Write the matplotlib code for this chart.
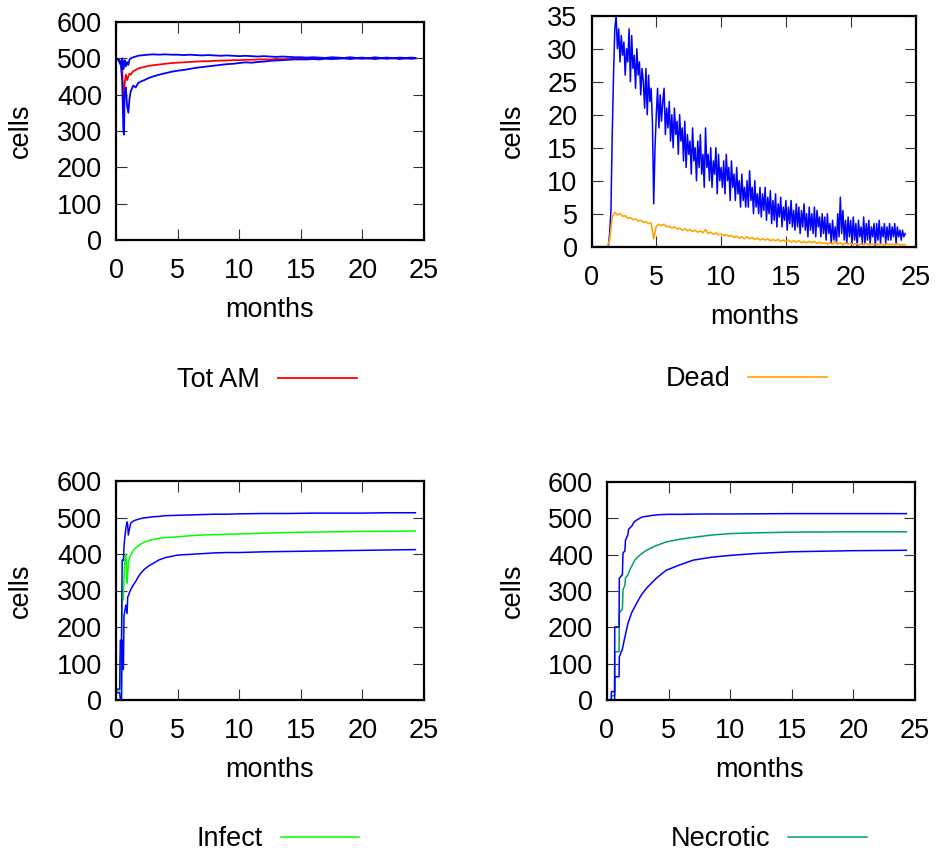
import matplotlib
matplotlib.use('Agg')
import matplotlib.pyplot as plt

plt.rcParams['font.family'] = ['Liberation Sans', 'DejaVu Sans']

# ---------------- data ----------------
x_ticks = [0, 5, 10, 15, 20, 25]
cells_ticks = [0, 100, 200, 300, 400, 500, 600]
dead_ticks = [0, 5, 10, 15, 20, 25, 30, 35]

tot_months = [0, 0.2, 0.4, 0.5, 0.6, 0.65, 0.7, 0.8, 0.9, 1.0,
              1.1, 1.2, 1.4, 1.6, 1.8, 2.0, 2.3, 2.6, 3.0, 3.5,
              4.0, 4.5, 5.0, 5.5, 6.0, 6.5, 7.0, 7.5, 8.0, 8.5,
              9.0, 9.5, 10.0, 10.5, 11.0, 11.5, 12.0, 12.5, 13.0, 13.5,
              14.0, 14.5, 15.0, 15.5, 16.0, 16.5, 17.0, 17.5, 18.0, 18.5,
              19.0, 19.5, 20.0, 20.5, 21.0, 21.5, 22.0, 22.5, 23.0, 23.5,
              24.0, 24.3]
tot_mean = [500, 498, 490, 470, 400, 385, 430, 455, 440, 450,
            458, 455, 465, 468, 472, 474, 476, 479, 481, 483,
            485, 487, 488, 489, 490, 491, 492, 492, 493, 494,
            494, 495, 495, 496, 496, 497, 497, 497, 498, 498,
            498, 499, 499, 499, 499, 500, 500, 499, 500, 500,
            501, 500, 500, 499, 500, 501, 500, 500, 501, 500,
            500, 500]
tot_hi = [500, 497, 485, 500, 470, 480, 495, 478, 490, 482,
          497, 500, 503, 505, 507, 508, 509, 510, 511, 510,
          511, 510, 510, 509, 510, 509, 508, 509, 508, 507,
          508, 507, 506, 507, 506, 505, 506, 505, 504, 505,
          504, 503, 503, 502, 503, 502, 501, 503, 502, 501,
          503, 501, 502, 500, 503, 501, 502, 500, 502, 501,
          502, 501]
tot_lo = [500, 495, 480, 440, 300, 290, 400, 420, 370, 350,
          390, 410, 425, 420, 432, 436, 440, 445, 450, 455,
          459, 463, 466, 468, 471, 474, 476, 478, 480, 482,
          484, 485, 487, 489, 488, 490, 491, 493, 494, 495,
          496, 497, 497, 497, 498, 497, 499, 498, 499, 500,
          498, 500, 499, 501, 498, 500, 499, 501, 498, 500,
          499, 500]

dead_hi_months = [0.0, 0.1, 0.2, 0.3, 0.4, 0.5, 0.6, 0.7, 0.8, 0.9,
                  1.0, 1.1, 1.2, 1.3, 1.4, 1.5, 1.6, 1.7, 1.8, 1.9,
                  2.0, 2.1, 2.2, 2.3, 2.4, 2.5, 2.6, 2.7, 2.8, 2.9,
                  3.0, 3.1, 3.2, 3.3, 3.4, 3.5, 3.6, 3.7, 3.8, 3.9,
                  4.0, 4.1, 4.2, 4.3, 4.4, 4.5, 4.6, 4.7, 4.8, 4.9,
                  5.0, 5.1, 5.2, 5.3, 5.4, 5.5, 5.6, 5.7, 5.8, 5.9,
                  6.0, 6.1, 6.2, 6.3, 6.4, 6.5, 6.6, 6.7, 6.8, 6.9,
                  7.0, 7.1, 7.2, 7.3, 7.4, 7.5, 7.6, 7.7, 7.8, 7.9,
                  8.0, 8.1, 8.2, 8.3, 8.4, 8.5, 8.6, 8.7, 8.8, 8.9,
                  9.0, 9.1, 9.2, 9.3, 9.4, 9.5, 9.6, 9.7, 9.8, 9.9,
                  10.0, 10.1, 10.2, 10.3, 10.4, 10.5, 10.6, 10.7, 10.8, 10.9,
                  11.0, 11.1, 11.2, 11.3, 11.4, 11.5, 11.6, 11.7, 11.8, 11.9,
                  12.0, 12.1, 12.2, 12.3, 12.4, 12.5, 12.6, 12.7, 12.8, 12.9,
                  13.0, 13.1, 13.2, 13.3, 13.4, 13.5, 13.6, 13.7, 13.8, 13.9,
                  14.0, 14.1, 14.2, 14.3, 14.4, 14.5, 14.6, 14.7, 14.8, 14.9,
                  15.0, 15.1, 15.2, 15.3, 15.4, 15.5, 15.6, 15.7, 15.8, 15.9,
                  16.0, 16.1, 16.2, 16.3, 16.4, 16.5, 16.6, 16.7, 16.8, 16.9,
                  17.0, 17.1, 17.2, 17.3, 17.4, 17.5, 17.6, 17.7, 17.8, 17.9,
                  18.0, 18.1, 18.2, 18.3, 18.4, 18.5, 18.6, 18.7, 18.8, 18.9,
                  19.0, 19.1, 19.2, 19.3, 19.4, 19.5, 19.6, 19.7, 19.8, 19.9,
                  20.0, 20.1, 20.2, 20.3, 20.4, 20.5, 20.6, 20.7, 20.8, 20.9,
                  21.0, 21.1, 21.2, 21.3, 21.4, 21.5, 21.6, 21.7, 21.8, 21.9,
                  22.0, 22.1, 22.2, 22.3, 22.4, 22.5, 22.6, 22.7, 22.8, 22.9,
                  23.0, 23.1, 23.2, 23.3, 23.4, 23.5, 23.6, 23.7, 23.8, 23.9,
                  24.0, 24.1, 24.2]
dead_hi = [0, 0, 0, 0, 0, 0, 0, 0, 0, 0,
           0, 0, 0, 0, 2, 5.5, 17, 26, 33, 35,
           30, 33, 28, 32, 29, 31, 26, 30, 28, 33,
           25, 32, 27, 29, 24, 30, 26, 28, 23, 27,
           25, 21, 27, 20, 26, 22, 24, 19, 6.5, 15,
           20, 24, 18, 23, 19, 22, 24, 17, 21, 18,
           22, 16, 20, 15, 21, 17, 19, 14, 20, 16,
           18, 13, 19, 12, 17, 14, 16, 11, 18, 13,
           15, 10, 16, 12, 17, 11, 14, 9, 18, 12,
           14, 10, 15, 9, 13, 11, 15, 8, 14, 10,
           12, 9, 13, 8, 14, 10, 12, 7, 13, 9,
           11, 7, 12, 8, 10, 6, 11, 7, 9, 6,
           10, 6, 11.5, 7, 9, 5, 10, 6, 8, 5,
           9, 4.5, 8, 5.5, 9, 4, 7.5, 5, 8.5, 3.5,
           7, 4, 8, 3, 6.5, 4.5, 7.5, 3, 6, 4,
           7, 2.5, 6, 3.5, 7, 3, 5.5, 2.5, 6.5, 3,
           6, 2, 5.5, 3, 6.5, 2.5, 5, 1.5, 6, 2.5,
           5, 2, 6, 1.5, 5.5, 3, 4.5, 1.5, 5, 2,
           4.5, 1, 5, 2, 3.5, 0.5, 4, 1, 3, 0.5,
           5, 1.5, 7.5, 2, 5.5, 1, 4, 0.5, 4.5, 1.5,
           4, 0.5, 4.5, 1, 3.5, 0, 4, 1.5, 3, 0.5,
           4.5, 0.5, 3.5, 1, 4, 0.5, 3, 1.5, 3.5, 0,
           3.5, 1, 4, 0.5, 3, 1.5, 3.5, 0.5, 3, 1,
           3.5, 1, 3, 1.5, 3.5, 0.5, 3, 1.5, 2.5, 1,
           2.5, 1.5, 2]

dead_months = [0.0, 0.2, 0.4, 0.6, 0.8, 1.0, 1.2, 1.4, 1.6, 1.8,
               2.0, 2.2, 2.4, 2.6, 2.8, 3.0, 3.2, 3.4, 3.6, 3.8,
               4.0, 4.2, 4.4, 4.6, 4.8, 5.0, 5.2, 5.4, 5.6, 5.8,
               6.0, 6.2, 6.4, 6.6, 6.8, 7.0, 7.2, 7.4, 7.6, 7.8,
               8.0, 8.2, 8.4, 8.6, 8.8, 9.0, 9.2, 9.4, 9.6, 9.8,
               10.0, 10.2, 10.4, 10.6, 10.8, 11.0, 11.2, 11.4, 11.6, 11.8,
               12.0, 12.2, 12.4, 12.6, 12.8, 13.0, 13.2, 13.4, 13.6, 13.8,
               14.0, 14.2, 14.4, 14.6, 14.8, 15.0, 15.2, 15.4, 15.6, 15.8,
               16.0, 16.2, 16.4, 16.6, 16.8, 17.0, 17.2, 17.4, 17.6, 17.8,
               18.0, 18.2, 18.4, 18.6, 18.8, 19.0, 19.2, 19.4, 19.6, 19.8,
               20.0, 20.2, 20.4, 20.6, 20.8, 21.0, 21.2, 21.4, 21.6, 21.8,
               22.0, 22.2, 22.4, 22.6, 22.8, 23.0, 23.2, 23.4, 23.6, 23.8,
               24.0, 24.2]
dead_mean = [0, 0, 0, 0, 0, 0, 0, 1.0, 4.5, 5.2,
             4.8, 5.0, 4.6, 4.7, 4.3, 4.4, 4.1, 4.2, 3.9, 4.0,
             3.7, 3.8, 3.5, 3.6, 1.2, 3.1, 3.4, 3.2, 3.4, 3.0,
             3.1, 2.8, 3.0, 2.7, 2.8, 2.5, 2.7, 2.4, 2.6, 2.3,
             2.5, 2.2, 2.4, 2.1, 2.6, 2.0, 2.2, 1.9, 2.1, 1.8,
             1.9, 1.7, 1.8, 1.6, 1.7, 1.4, 1.6, 1.3, 1.5, 1.2,
             1.5, 1.2, 1.4, 1.1, 1.3, 1.0, 1.2, 1.0, 1.2, 0.9,
             1.1, 0.9, 1.1, 0.8, 1.0, 0.8, 1.0, 0.7, 0.9, 0.7,
             0.9, 0.6, 0.8, 0.6, 0.8, 0.6, 0.8, 0.5, 0.7, 0.5,
             0.6, 0.4, 0.6, 0.4, 0.8, 0.4, 0.6, 0.3, 0.6, 0.4,
             0.5, 0.3, 0.5, 0.3, 0.4, 0.3, 0.5, 0.3, 0.4, 0.3,
             0.4, 0.3, 0.4, 0.2, 0.4, 0.3, 0.4, 0.3, 0.4, 0.3,
             0.3, 0.3]

infect_months = [0, 0.3, 0.35, 0.45, 0.5, 0.55, 0.6, 0.65, 0.7, 0.8,
                 0.9, 0.95, 1.0, 1.1, 1.2, 1.4, 1.6, 1.8, 2.0, 2.3,
                 2.6, 3.0, 3.5, 4.0, 5.0, 6.0, 7.0, 8.0, 9.0, 10.0,
                 12.0, 14.0, 16.0, 18.0, 20.0, 22.0, 24.3]
infect_hi = [30, 30, 164, 164, 383, 383, 383, 420, 440, 470,
             488, 480, 452, 470, 485, 490, 493, 495, 497, 499,
             500, 502, 503, 505, 506, 507, 508, 509, 509, 510,
             511, 511, 512, 512, 512, 513, 513]
infect_mean = [25, 25, 110, 164, 274, 274, 274, 330, 380, 400,
               320, 345, 375, 390, 398, 410, 417, 422, 427, 432,
               436, 440, 443, 445, 447, 450, 452, 453, 454, 455,
               457, 459, 460, 461, 462, 462, 463]
infect_lo = [20, 20, 0, 0, 164, 84, 84, 230, 240, 260,
             237, 283, 285, 295, 303, 315, 325, 337, 347, 358,
             366, 374, 384, 390, 397, 399, 401, 403, 404, 404,
             406, 407, 408, 409, 410, 411, 412]

necro_hi_months = [0, 0.35, 0.36, 0.62, 0.63, 0.98, 1.0, 1.25, 1.3, 1.45,
                   1.5, 1.7, 1.75, 2.0, 2.2, 2.4, 2.7, 2.9, 3.3, 3.7,
                   4.2, 5.0, 6.0, 8.0, 10.0, 15.0, 20.0, 24.3]
necro_hi = [0, 0, 23, 23, 201, 201, 335, 345, 405, 410,
            440, 455, 470, 478, 490, 495, 501, 504, 506, 508,
            510, 511, 511, 512, 512, 513, 513, 513]
necro_mean_months = [0, 0.35, 0.36, 0.62, 0.63, 0.98, 1.0, 1.25, 1.3, 1.45,
                     1.5, 1.7, 1.84, 2.0, 2.25, 2.7, 3.2, 4.0, 4.8, 6.0,
                     7.3, 8.5, 10.0, 12.0, 15.0, 20.0, 24.3]
necro_mean = [0, 0, 12, 12, 133, 133, 240, 250, 305, 315,
              335, 345, 357, 368, 385, 400, 412, 425, 435, 443,
              449, 454, 458, 460, 462, 463, 463]
necro_lo_months = [0, 0.62, 0.63, 0.98, 1.0, 1.25, 1.4, 1.7, 2.0, 2.4,
                   2.8, 3.3, 4.0, 4.8, 6.0, 7.0, 8.5, 10.0, 12.0, 15.0,
                   20.0, 24.3]
necro_lo = [0, 0, 64, 64, 119, 140, 165, 211, 240, 266,
            290, 311, 335, 357, 373, 385, 393, 398, 403, 408,
            411, 412]

# ---------------- figure ----------------
W, H = 936, 852
fig = plt.figure(figsize=(W / 100, H / 100), dpi=100)
FS = 19.5
BLUE = '#0000ff'


def rect(l, t, r, b):
    return [l / W, 1 - b / H, (r - l) / W, (b - t) / H]


def style(ax, yticks):
    ax.set_xlim(0, 25)
    ax.set_ylim(yticks[0], yticks[-1])
    ax.set_xticks(x_ticks)
    ax.set_yticks(yticks)
    ax.tick_params(direction='in', length=8, width=0.8, color='#333333',
                   top=True, right=True, labelsize=FS, pad=10)
    ax.tick_params(axis='x', pad=13)
    for s in ax.spines.values():
        s.set_linewidth(1.6)


def legend(ax, cx, cy):
    ax.legend(loc='center', bbox_to_anchor=(cx / W, 1 - cy / H),
              bbox_transform=fig.transFigure, frameon=False,
              markerfirst=False, fontsize=FS, handlelength=2.9,
              handletextpad=0.65, borderpad=0)


def labels(xl, yl):
    fig.text(xl[0] / W, 1 - xl[1] / H, 'months', fontsize=FS,
             ha='center', va='baseline')
    fig.text(yl[0] / W, 1 - yl[1] / H, 'cells', fontsize=FS,
             ha='center', va='center', rotation=90)


# Panel 1: Tot AM
ax1 = fig.add_axes(rect(116, 22, 424, 240))
ax1.plot(tot_months, tot_mean, color='#ff0000', lw=1.3, label='Tot AM')
ax1.plot(tot_months, tot_hi, color=BLUE, lw=1.3)
ax1.plot(tot_months, tot_lo, color=BLUE, lw=1.3)
style(ax1, cells_ticks)
legend(ax1, 267, 380)
labels((270, 317), (21, 131))

# Panel 2: Dead
ax2 = fig.add_axes(rect(591.5, 15.7, 915.5, 246.7))
ax2.plot(dead_hi_months, dead_hi, color=BLUE, lw=1.1)
ax2.plot(dead_months, dead_mean, color='#ffa500', lw=1.2, label='Dead')
style(ax2, dead_ticks)
legend(ax2, 746, 379)
labels((755, 324), (513, 131))

# Panel 3: Infect
ax3 = fig.add_axes(rect(116, 481, 424, 700))
ax3.plot(infect_months, infect_mean, color='#00ff00', lw=1.1, label='Infect')
ax3.plot(infect_months, infect_hi, color=BLUE, lw=1.1)
ax3.plot(infect_months, infect_lo, color=BLUE, lw=1.1)
style(ax3, cells_ticks)
legend(ax3, 278, 839)
labels((270, 777), (21, 591))

# Panel 4: Necrotic
ax4 = fig.add_axes(rect(607, 482, 915, 700))
ax4.plot(necro_mean_months, necro_mean, color='#009e73', lw=1.1, label='Necrotic')
ax4.plot(necro_hi_months, necro_hi, color=BLUE, lw=1.1)
ax4.plot(necro_lo_months, necro_lo, color=BLUE, lw=1.1)
style(ax4, cells_ticks)
legend(ax4, 769, 839)
labels((760, 777), (513, 591))

fig.savefig('out.png', dpi=100)
